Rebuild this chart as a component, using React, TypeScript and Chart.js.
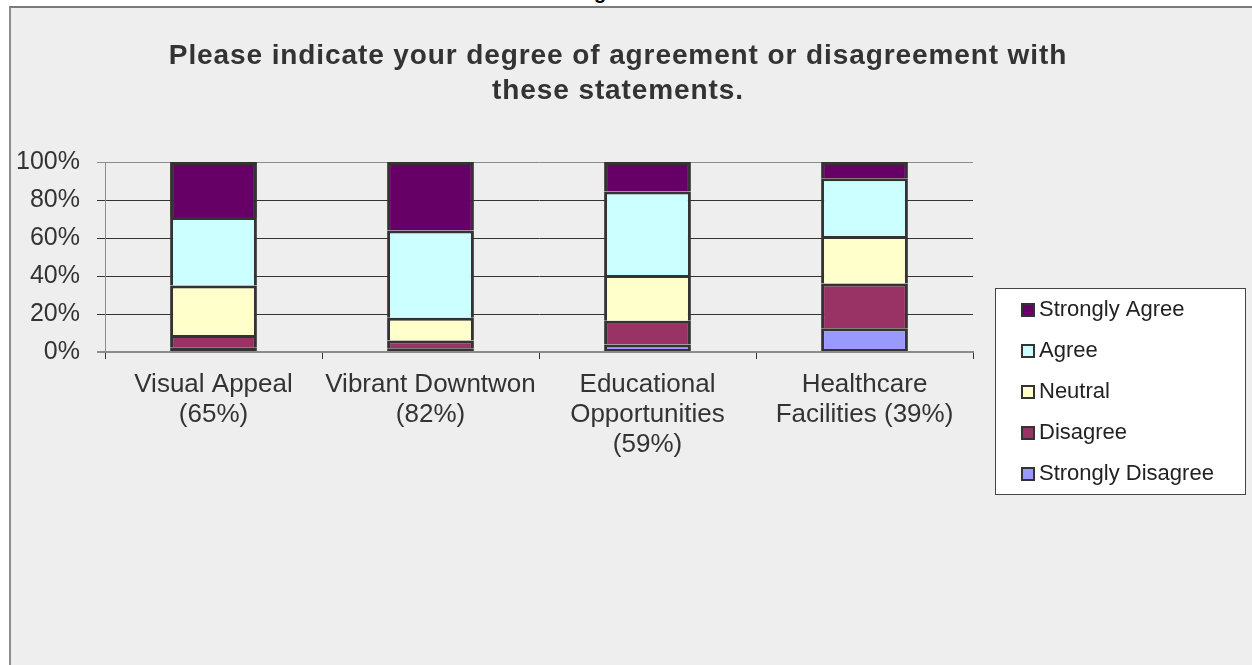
import React, { useEffect, useRef } from "react";
import { Chart, registerables } from "chart.js";

Chart.register(...registerables);

const FONT = "'Liberation Sans', Arial, Helvetica, sans-serif";

const titleLines = [
  "Please indicate your degree of agreement or disagreement with",
  "these statements.",
];

const categories: string[][] = [
  ["Visual Appeal", "(65%)"],
  ["Vibrant Downtwon", "(82%)"],
  ["Educational", "Opportunities", "(59%)"],
  ["Healthcare", "Facilities (39%)"],
];

const seriesNames = ["Strongly Disagree", "Disagree", "Neutral", "Agree", "Strongly Agree"];
const stronglyDisagree = [2.5, 2, 4, 12.5];
const disagree = [6.5, 4, 12.5, 23.5];
const neutral = [26, 12, 24, 25];
const agree = [36, 46, 44, 30.5];
const stronglyAgree = [29, 36, 15.5, 8.5];
const seriesColors = ["#9999FF", "#993366", "#FFFFCC", "#CCFFFF", "#660066"];

const yTicks = [0, 20, 40, 60, 80, 100];

const titleSpacing = {
  id: "titleSpacing",
  afterInit(chart: any) {
    const tb = chart.titleBlock;
    if (!tb) return;
    const orig = tb.draw.bind(tb);
    tb.draw = (area: any) => {
      const ctx = chart.ctx as any;
      ctx.save();
      ctx.letterSpacing = "0.9px";
      orig(area);
      ctx.restore();
    };
  },
};

const boxedLegend = {
  id: "boxedLegend",
  afterDraw(chart: any) {
    const ctx = chart.ctx as CanvasRenderingContext2D;
    const x0 = 995;
    const y0 = 288;
    const w = 250;
    const h = 206;
    ctx.save();
    ctx.fillStyle = "#ffffff";
    ctx.fillRect(x0, y0, w, h);
    ctx.strokeStyle = "#444444";
    ctx.lineWidth = 1;
    ctx.strokeRect(x0 + 0.5, y0 + 0.5, w, h);
    const ds = chart.data.datasets.slice().reverse();
    ds.forEach((d: any, i: number) => {
      const cy = 310 + i * 41;
      ctx.fillStyle = "#333333";
      ctx.fillRect(1021, cy - 7, 14, 14);
      ctx.fillStyle = d.backgroundColor;
      ctx.fillRect(1023, cy - 5, 10, 10);
      ctx.fillStyle = "#222222";
      ctx.font = `22px ${FONT}`;
      ctx.textBaseline = "middle";
      ctx.textAlign = "left";
      ctx.fillText(d.label, 1039, cy);
    });
    ctx.restore();
  },
};

export default function App() {
  const ref = useRef<HTMLCanvasElement | null>(null);

  useEffect(() => {
    if (!ref.current) return;
    const values = [stronglyDisagree, disagree, neutral, agree, stronglyAgree];
    const datasets = seriesNames.map((name, i) => ({
      label: name,
      data: values[i],
      backgroundColor: seriesColors[i],
      borderColor: "#333333",
      borderWidth: i === 0 ? { left: 3, right: 3, top: 3, bottom: 2 } : 3,
      borderSkipped: i === 0 ? false : "start",
      barPercentage: 0.4,
      categoryPercentage: 1.0,
    }));

    const chart = new Chart(ref.current, {
      type: "bar",
      data: { labels: categories, datasets: datasets as any },
      plugins: [titleSpacing, boxedLegend],
      options: {
        responsive: false,
        animation: false,
        layout: { padding: { left: 0, right: 16, top: 0, bottom: 194 } },
        plugins: {
          legend: { display: false },
          tooltip: { enabled: false },
          title: {
            display: true,
            text: titleLines,
            color: "#333333",
            font: { family: FONT, size: 28, weight: "bold", lineHeight: 1.25 },
            padding: { top: 39, bottom: 53 },
          },
        },
        scales: {
          x: {
            stacked: true,
            offset: true,
            grid: {
              display: true,
              drawOnChartArea: false,
              drawTicks: true,
              tickLength: 7,
              color: "#333333",
              offset: true,
            },
            border: { display: true, color: "#8c8c8c", width: 2 },
            ticks: {
              color: "#333333",
              font: { family: FONT, size: 26, lineHeight: 30 / 26 },
              padding: 11,
              maxRotation: 0,
              minRotation: 0,
              autoSkip: false,
            },
          },
          y: {
            stacked: true,
            min: 0,
            max: 100,
            afterBuildTicks: (s: any) => {
              s.ticks = yTicks.map((v) => ({ value: v }));
            },
            afterFit: (s: any) => {
              s.width = 105;
            },
            grid: {
              color: (c: any) =>
                c.tick && (c.tick.value === 0 || c.tick.value === 100) ? "#8c8c8c" : "#333333",
              lineWidth: (c: any) => (c.tick && c.tick.value === 0 ? 2 : 1),
              tickLength: 8,
              drawTicks: true,
            },
            border: { display: true, color: "#8c8c8c", width: 1 },
            ticks: {
              color: "#333333",
              font: { family: FONT, size: 25 },
              padding: 17,
              callback: (v: any) => `${v}%`,
            },
          },
          y2: {
            position: "right",
            display: true,
            grid: { display: false, drawTicks: false },
            border: { display: false },
            ticks: { display: false },
            afterFit: (s: any) => {
              s.width = 263;
            },
          },
        },
      } as any,
    });
    return () => chart.destroy();
  }, []);

  return (
    <div
      style={{
        position: "fixed",
        left: 0,
        top: 0,
        width: 1252,
        height: 665,
        background: "#ffffff",
        overflow: "hidden",
      }}
    >
      <div
        style={{
          position: "absolute",
          left: 9,
          top: 6,
          width: 1300,
          height: 700,
          background: "#eeeeee",
          borderLeft: "2px solid #8c8c8c",
          borderTop: "2px solid #7a7a7a",
        }}
      />
      <div
        style={{
          position: "absolute",
          left: 594,
          top: -18,
          fontFamily: FONT,
          fontWeight: "bold",
          fontSize: 20,
          lineHeight: "20px",
          color: "#000",
        }}
      >
        g
      </div>
      <canvas
        ref={ref}
        width={1252}
        height={665}
        style={{ position: "absolute", left: 0, top: 0, width: 1252, height: 665 }}
      />
    </div>
  );
}
